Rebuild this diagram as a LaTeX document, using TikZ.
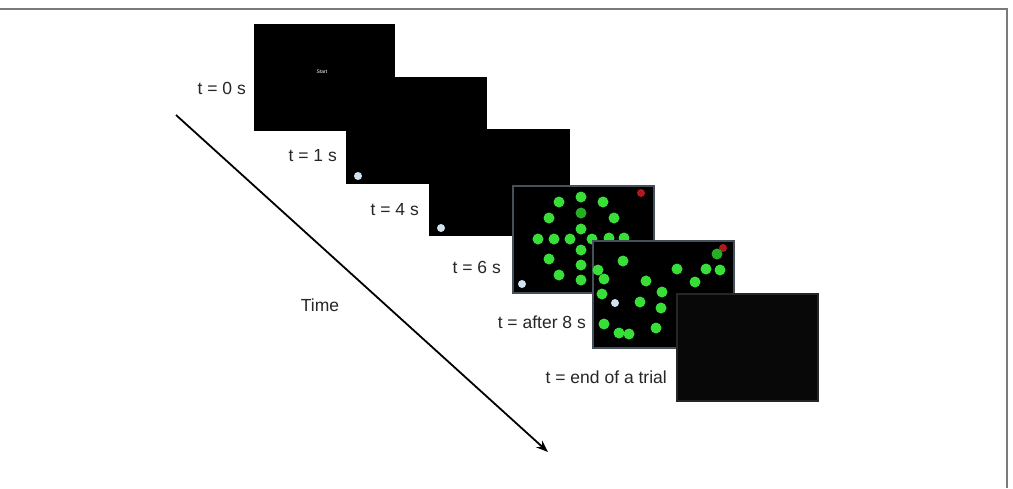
\documentclass[tikz,border=0pt]{standalone}
\usepackage{fontspec}
\setmainfont{Liberation Sans}
\usetikzlibrary{arrows.meta, positioning}
\definecolor{scredge}{HTML}{46505A}
\definecolor{endfill}{HTML}{080808}
\definecolor{endedge}{HTML}{262626}
\definecolor{dotgreen}{HTML}{38DF38}
\definecolor{dotdim}{HTML}{27AE27}
\definecolor{cursorcol}{HTML}{CFE2EE}
\definecolor{targetcol}{HTML}{B3191B}
\definecolor{framecol}{HTML}{7A7A7A}

\begin{document}
\begin{tikzpicture}[x=1pt, y=-1pt,
  screen/.style={
    fill=black, minimum width=141pt, minimum height=107pt,
    anchor=north west, inner sep=0pt, line width=1.6pt
  },
  tlabel/.style={anchor=east, inner sep=0pt, text=black!85,
    font=\fontsize{17.5}{20}\selectfont},
  timearrow/.style={-{Stealth[length=12pt, width=9pt]}, line width=1.8pt},
]

% ---------------------------------------------------------------
% Pixel grid: x to the right, y downwards, 1pt = 1px (1013 x 488)
% ---------------------------------------------------------------
\useasboundingbox (0,0) rectangle (1013,488);
\fill[white] (0,0) rectangle (1013,488);
\draw[framecol, line width=1.5pt] (0,9) -- (1007,9) -- (1007,488);

\def\rg{5.5}  % radius of a green disc
\def\rc{4.0}  % radius of cursor / target

% ===== t = 0 s : start screen =====
\node[screen] (scr0) at (253,23) {};
\node[text=white, font=\fontsize{5}{6}\selectfont, inner sep=0pt] (start) at (322,72) {Start};

% ===== t = 1 s =====
\node[screen] (scr1) at (345,76) {};
\fill[cursorcol] (358,176) circle (\rc);

% ===== t = 4 s =====
\node[screen] (scr2) at (428,128) {};
\fill[cursorcol] (441,228) circle (\rc);

% ===== t = 6 s : disc pattern appears =====
\node[screen, draw=scredge] (scr3) at (512,185) {};
\foreach \px/\py in {559/202,581/197,603/202,549/218,614/218,581/229,
                     538/239,554/239,570/239,592/239,609/238,624/238,
                     581/250,549/259,581/265,559/275,581/280}{
  \fill[dotgreen] (\px,\py) circle (\rg);
}
\fill[dotdim] (581,213) circle (\rg);
\fill[targetcol] (641,193) circle (\rc);
\fill[cursorcol] (522,284) circle (\rc);

% ===== t = after 8 s : discs scattered =====
\node[screen, draw=scredge] (scr4) at (592,240) {};
\fill[targetcol] (723,248) circle (\rc);
\foreach \px/\py in {623/261,598/270,604/279,646/281,677/269,706/269,
                     720/270,695/282,602/294,662/292,640/302,661/308,
                     604/324,619/333,629/334,656/328}{
  \fill[dotgreen] (\px,\py) circle (\rg);
}
\fill[dotdim] (717,254) circle (\rg);
\fill[cursorcol] (615,303) circle (\rc);

% ===== t = end of a trial =====
\node[screen, fill=endfill, draw=endedge] (scr5) at (676,293) {};

% ===== Time labels =====
\node[tlabel] (lab0) at (246,88)  {t = 0 s};
\node[tlabel] (lab1) at (337,156) {t = 1 s};
\node[tlabel] (lab2) at (419,210) {t = 4 s};
\node[tlabel] (lab3) at (501,267) {t = 6 s};
\node[tlabel] (lab4) at (586,322) {t = after 8 s};
\node[tlabel] (lab5) at (667,377) {t = end of a trial};

% ===== Time axis =====
\coordinate (tstart) at (176,115);
\coordinate (tend)   at (548,452);
\draw[timearrow] (tstart) -- (tend);
\node[tlabel, anchor=center] (time) at (320,305) {Time};

\end{tikzpicture}
\end{document}
